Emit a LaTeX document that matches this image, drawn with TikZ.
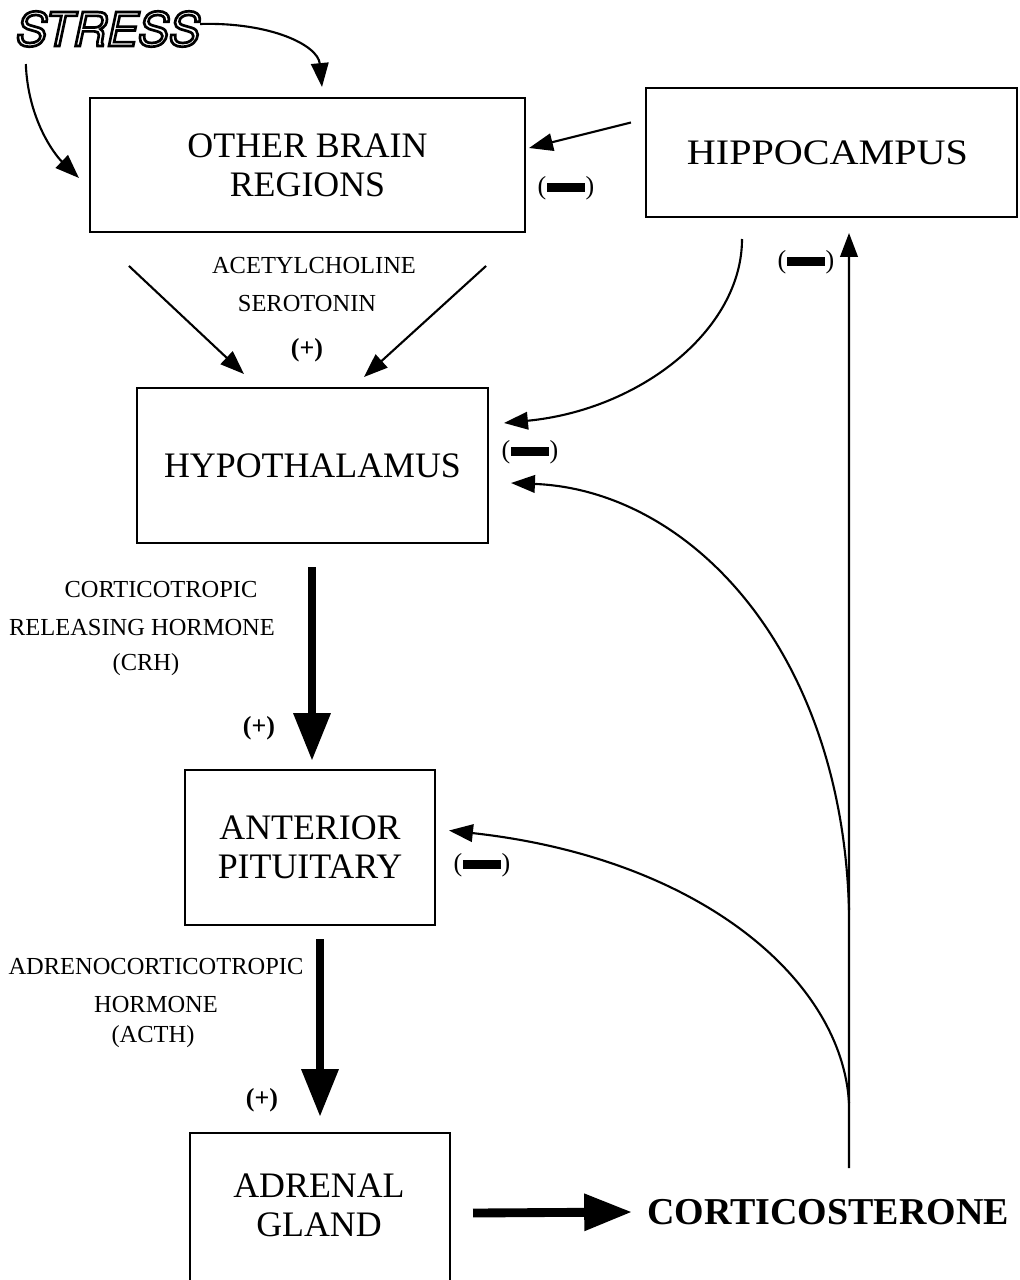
\documentclass[tikz,border=0pt]{standalone}
\usepackage{fontspec}
\setmainfont{Liberation Serif}
\setsansfont{TeX Gyre Heros}
\usetikzlibrary{arrows.meta,calc}
\newcommand\bigf{\fontsize{25.5}{27.5}\selectfont}
\newcommand\smallf{\fontsize{17.4}{27}\selectfont}
\newcommand\negsign{{\fontsize{18.5}{18.5}\selectfont(\kern0.5pt\rule[1.9pt]{27pt}{5.8pt}\kern0.5pt)}}
\newcommand\outlined[1]{\special{pdf:literal direct 1 Tr 1.9 w}#1\special{pdf:literal direct 0 Tr}}
\begin{document}
\begin{tikzpicture}[x=0.025cm,y=-0.025cm,
  box/.style={draw,line width=1.4pt,inner sep=0pt,align=center,font=\bigf},
  thinarr/.style={line width=1.5pt,-{Triangle[length=17pt,width=12.5pt]}},
  bigarr/.style={line width=6.3pt,-{Triangle[length=34pt,width=25pt]}},
  lab/.style={font=\smallf,inner sep=0pt,align=center},
  plus/.style={font=\fontsize{18.5}{18.5}\selectfont\bfseries,inner sep=0pt},
  stressf/.style={font=\fontsize{33}{33}\selectfont\sffamily\itshape,inner sep=0pt}]
\useasboundingbox[fill=white] (0,0) rectangle (1019,1280);

% boxes
\node[box,minimum width=10.875cm,minimum height=3.35cm] (obr) at (307.5,165) {OTHER BRAIN\\REGIONS};
\node[box,minimum width=9.275cm,minimum height=3.225cm] (hip) at (831.5,152.5) {\hspace*{-0.2cm}\scalebox{1.12}[1]{HIPPOCAMPUS}};
\node[box,minimum width=8.775cm,minimum height=3.875cm] (hyp) at (312.5,465.5) {HYPOTHALAMUS};
\node[box,minimum width=6.25cm,minimum height=3.875cm] (ap) at (310,847.5) {ANTERIOR\\PITUITARY};
\node[box,minimum width=6.5cm,minimum height=5cm,anchor=north] (ag) at (320,1132) {};
\node[font=\bigf,align=center,inner sep=0pt] (agt) at (319,1205) {ADRENAL\\GLAND};
\node[font=\fontsize{27}{27}\selectfont\bfseries,anchor=west,inner sep=0pt] (cs) at (647,1212) {CORTICOSTERONE};

% STRESS (outlined letters)
\node[stressf] (stress) at (108,29) {\outlined{STRESS}};

% labels
\node[lab] (acet) at (314,266) {ACETYLCHOLINE};
\node[lab] (sero) at (307,304) {SEROTONIN};
\node[plus] (p1) at (307,350) {(+)};
\node[lab] (cort) at (161,590) {CORTICOTROPIC};
\node[lab] (rel) at (142,628) {RELEASING HORMONE};
\node[lab] (crh) at (146,665) {(CRH)};
\node[plus] (p2) at (259,728) {(+)};
\node[lab] (adr) at (156,967) {ADRENOCORTICOTROPIC};
\node[lab] (horm) at (156,1005) {HORMONE};
\node[lab] (acth) at (153,1037) {(ACTH)};
\node[plus] (p3) at (262,1100) {(+)};
\node[inner sep=0pt] (m1) at (566,188) {\negsign};
\node[inner sep=0pt] (m2) at (806,262) {\negsign};
\node[inner sep=0pt] (m3) at (530,452) {\negsign};
\node[inner sep=0pt] (m4) at (482,865) {\negsign};

% connectors
\draw[thinarr] ($(stress.east)+(0,-5)$) .. controls (270,22) and (318,45) .. ($(obr.north)+(14.5,-10)$);
\draw[thinarr] ($(stress.south west)+(10,17)$) .. controls (28,120) and (55,155) .. ($(obr.west)+(-10,13)$);
\draw[thinarr] ($(hip.west)+(-14,-30)$) -- ($(obr.east)+(3,-17)$);
\draw[thinarr] ($(obr.south west)+(40,33)$) -- ($(hyp.north west)+(108,-13)$);
\draw[thinarr] ($(obr.south east)+(-40,33)$) -- ($(hyp.north west)+(228,-10)$);
\draw[thinarr] ($(hip.south)+(-89.5,21)$) .. controls (742,330) and (640,410) .. ($(hyp.east)+(15,-42.5)$);

\coordinate (cb) at (849,1168);
\coordinate (j1) at (849,910);
\coordinate (j2) at (849,1103);
\draw[thinarr] (cb) -- ($(hip.south)+(17.5,15)$);
\draw[thinarr] (j1) .. controls (842,650) and (690,490) .. ($(hyp.east)+(22,17.5)$);
\draw[thinarr] (j2) .. controls (842,980) and (700,858) .. ($(ap.east)+(13,-17)$);

\draw[bigarr] ($(hyp.south)+(-0.5,23)$) -- ($(ap.north)+(2,-8)$);
\draw[bigarr] ($(ap.south)+(10,13)$) -- ($(ag.north)+(0,-15)$);
\draw[bigarr] ($(ag.east)+(22,-20)$) -- ($(cs.west)+(-15,0)$);
\end{tikzpicture}
\end{document}
